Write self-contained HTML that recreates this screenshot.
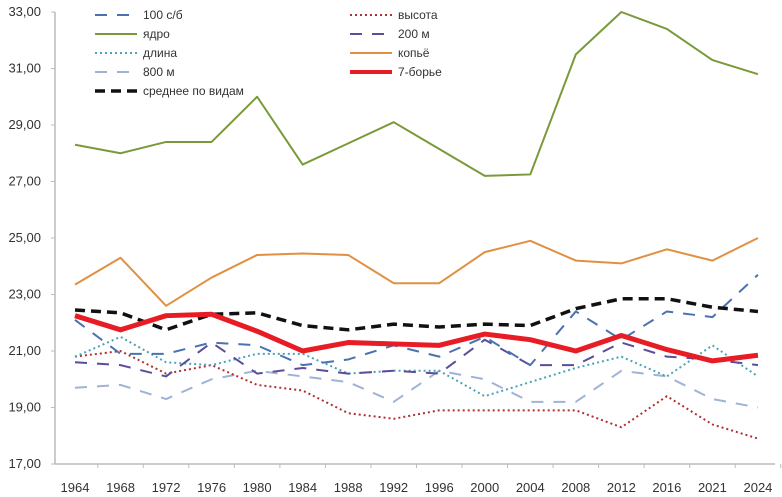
<!DOCTYPE html>
<html><head><meta charset="utf-8"><style>
body{margin:0;background:#fff;}
svg{display:block;font-family:"Liberation Sans","DejaVu Sans",sans-serif;}
</style></head><body>
<svg id="chart" width="782" height="497"></svg>
<script>
const categories=["1964","1968","1972","1976","1980","1984","1988","1992","1996","2000","2004","2008","2012","2016","2021","2024"];
const yTicks=[17,19,21,23,25,27,29,31,33];
const s100=[22.1,20.9,20.9,21.3,21.2,20.5,20.7,21.2,20.8,21.5,20.5,22.4,21.4,22.4,22.2,23.7];
const sShot=[28.3,28.0,28.4,28.4,30.0,27.6,28.35,29.1,28.15,27.2,27.25,31.5,33.0,32.4,31.3,30.8];
const sLong=[20.8,21.5,20.6,20.5,20.9,20.9,20.2,20.3,20.3,19.4,19.9,20.4,20.8,20.1,21.2,20.1];
const s800=[19.7,19.8,19.3,20.0,20.3,20.1,19.9,19.2,20.3,20.0,19.2,19.2,20.3,20.1,19.3,19.0];
const sHigh=[20.8,21.0,20.2,20.5,19.8,19.6,18.8,18.6,18.9,18.9,18.9,18.9,18.3,19.4,18.4,17.9];
const s200=[20.6,20.5,20.1,21.3,20.2,20.4,20.2,20.3,20.2,21.4,20.5,20.5,21.3,20.8,20.7,20.5];
const sJav=[23.35,24.3,22.6,23.6,24.4,24.45,24.4,23.4,23.4,24.5,24.9,24.2,24.1,24.6,24.2,25.0];
const sHept=[22.25,21.75,22.25,22.3,21.7,21.0,21.3,21.25,21.2,21.6,21.4,21.0,21.55,21.05,20.65,20.85];
const sAvg=[22.45,22.35,21.75,22.3,22.35,21.9,21.75,21.95,21.85,21.95,21.9,22.5,22.85,22.85,22.55,22.4];

const NS="http://www.w3.org/2000/svg";
const svg=document.getElementById('chart');
const X0=75,DX=45.53,Y0=12,YS=28.25,AX=55,AY=464;
const xPos=i=>X0+i*DX;
const yPos=v=>Y0+(33-v)*YS;
function mk(t,a){const e=document.createElementNS(NS,t);for(const k in a)e.setAttribute(k,a[k]);svg.appendChild(e);return e;}

let ax=mk('line',{x1:AX,y1:Y0,x2:AX,y2:AY,stroke:'#bbb','stroke-width':1.5});


let bx=mk('line',{x1:AX,y1:AY,x2:775,y2:AY,stroke:'#bbb','stroke-width':1.5});


yTicks.forEach(v=>{
 mk('line',{x1:AX-4,y1:yPos(v),x2:AX,y2:yPos(v),stroke:'#bbb'});
 const t=mk('text',{x:AX-14,y:yPos(v)+4,'text-anchor':'end','font-size':13,fill:'#333'});
 t.textContent=v.toFixed(2).replace('.',',');
 
 
});
categories.forEach((c,i)=>{
 mk('line',{x1:xPos(i)+DX/2,y1:AY,x2:xPos(i)+DX/2,y2:AY+4,stroke:'#bbb'});
 const t=mk('text',{x:xPos(i),y:492,'text-anchor':'middle','font-size':13,fill:'#333'});
 t.textContent=c;
 
 
});
const series=[
 {n:'800 м',d:s800,c:'#9fb3d6',w:2,da:'12,10',id:'series-800m'},
 {n:'высота',d:sHigh,c:'#b03030',w:2,da:'2,3',id:'series-high-jump'},
 {n:'длина',d:sLong,c:'#4aa3b8',w:2,da:'2,3',id:'series-long-jump'},
 {n:'200 м',d:s200,c:'#5a4e9a',w:2,da:'12,10',id:'series-200m'},
 {n:'100 с/б',d:s100,c:'#4a72b0',w:2,da:'12,10',id:'series-100m-hurdles'},
 {n:'ядро',d:sShot,c:'#7a9a3a',w:2,da:'',id:'series-shot-put'},
 {n:'копьё',d:sJav,c:'#e09040',w:2,da:'',id:'series-javelin'},
 {n:'среднее по видам',d:sAvg,c:'#111',w:3.5,da:'10,6',id:'series-average'},
 {n:'7-борье',d:sHept,c:'#e81c24',w:5,da:'',id:'series-heptathlon'}
];
series.forEach(s=>{
 const p=mk('polyline',{points:s.d.map((v,i)=>xPos(i)+','+yPos(v)).join(' '),fill:'none',stroke:s.c,'stroke-width':s.w,'stroke-dasharray':s.da,'stroke-linejoin':'round'});
 
 
});
const leg=[
 ['100 с/б',95,15],['ядро',95,34],['длина',95,53],['800 м',95,72],['среднее по видам',95,91],
 ['высота',350,15],['200 м',350,34],['копьё',350,53],['7-борье',350,72]
];
leg.forEach(([n,x,y])=>{
 const s=series.find(q=>q.n===n);
 const l=mk('line',{x1:x,y1:y,x2:x+42,y2:y,stroke:s.c,'stroke-width':Math.min(s.w,4),'stroke-dasharray':s.da});
 
 
 const t=mk('text',{x:x+48,y:y+4,'font-size':12,fill:'#333'});
 t.textContent=n;
 
 
});
</script>
</body></html>
